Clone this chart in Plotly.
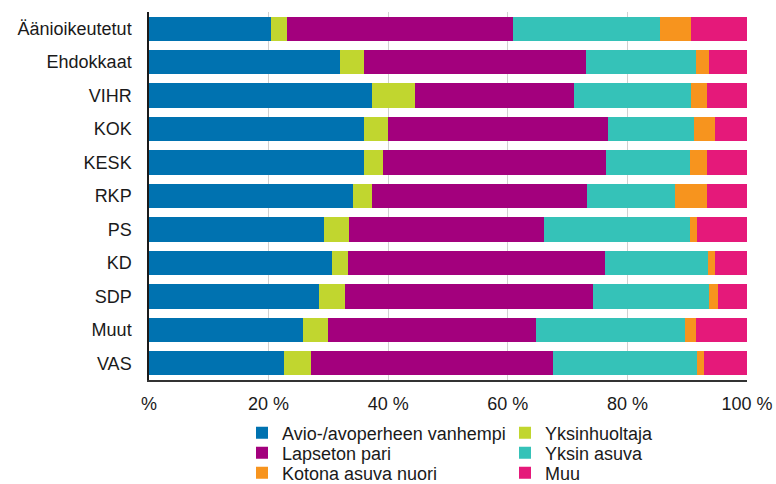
import plotly.graph_objects as go

categories = ["Äänioikeutetut", "Ehdokkaat", "VIHR", "KOK", "KESK", "RKP",
              "PS", "KD", "SDP", "Muut", "VAS"]

avio = [20.4, 31.9, 37.3, 35.9, 35.9, 34.1, 29.3, 30.6, 28.5, 25.8, 22.6]
yksinhuoltaja = [2.7, 4.0, 7.2, 4.1, 3.3, 3.2, 4.2, 2.7, 4.2, 4.2, 4.5]
lapseton = [37.8, 37.1, 26.6, 36.7, 37.3, 35.9, 32.5, 42.9, 41.6, 34.7, 40.5]
yksin_asuva = [24.6, 18.5, 19.5, 14.5, 13.9, 14.8, 24.4, 17.2, 19.3, 24.9, 24.1]
kotona = [5.1, 2.1, 2.7, 3.4, 2.9, 5.3, 1.3, 1.2, 1.6, 1.8, 1.1]
muu = [9.4, 6.4, 6.7, 5.4, 6.7, 6.7, 8.3, 5.4, 4.8, 8.6, 7.2]

series_names = ["Avio-/avoperheen vanhempi", "Yksinhuoltaja", "Lapseton pari",
                "Yksin asuva", "Kotona asuva nuori", "Muu"]
series_values = [avio, yksinhuoltaja, lapseton, yksin_asuva, kotona, muu]
colors = ["#0072B0", "#C1D62F", "#A3007D", "#35C2B8", "#F7941E", "#E5197A"]

tick_vals = [0, 20, 40, 60, 80, 100]
tick_text = ["%", "20 %", "40 %", "60 %", "80 %", "100 %"]

FONT = "Liberation Sans, Arial, sans-serif"
W, H = 776, 484
ML, MR, MT, MB = 149, 29, 12, 104
PW, PH = W - ML - MR, H - MT - MB

# legend placement (pixel positions of each entry: text-left x, centre y)
legend_pos = [(282, 433), (545, 433), (282, 453), (545, 453), (282, 473), (545, 473)]

fig = go.Figure()
layout_legends = {}
for i, (name, vals, col) in enumerate(zip(series_names, series_values, colors)):
    lname = "legend" if i == 0 else f"legend{i + 1}"
    fig.add_trace(go.Bar(
        y=categories, x=vals, name=name, orientation="h",
        marker=dict(color=col, line=dict(width=0)),
        legend=lname, showlegend=True,
    ))
    tx, ty = legend_pos[i]
    layout_legends[lname] = dict(
        x=(tx - 40 - ML) / PW, y=(H - MB - ty) / PH,
        xanchor="left", yanchor="middle",
        font=dict(family=FONT, size=18, color="#1a1a1a"),
        bgcolor="rgba(0,0,0,0)", borderwidth=0,
        itemwidth=30, tracegroupgap=0,
    )

fig.update_layout(
    barmode="stack",
    bargap=0.27,
    width=W, height=H,
    margin=dict(l=ML, r=MR, t=MT, b=MB, autoexpand=False),
    plot_bgcolor="white", paper_bgcolor="white",
    font=dict(family=FONT, size=18, color="#1a1a1a"),
    **layout_legends,
)
fig.update_xaxes(
    range=[0, 100], tickvals=tick_vals, ticktext=tick_text,
    showgrid=True, gridcolor="#d0d0d0", gridwidth=1,
    showline=True, linecolor="#333333", linewidth=1.5,
    zeroline=False, ticks="", ticklabelstandoff=7,
    tickfont=dict(family=FONT, size=18, color="#1a1a1a"),
)
fig.update_yaxes(
    autorange="reversed", showgrid=False,
    showline=True, linecolor="#1a1a1a", linewidth=1.5,
    ticks="", ticklabelstandoff=12,
    tickfont=dict(family=FONT, size=18, color="#1a1a1a"),
)

fig.write_html("out.html", config={"displayModeBar": False},
               post_script="document.body.style.margin='0';")
